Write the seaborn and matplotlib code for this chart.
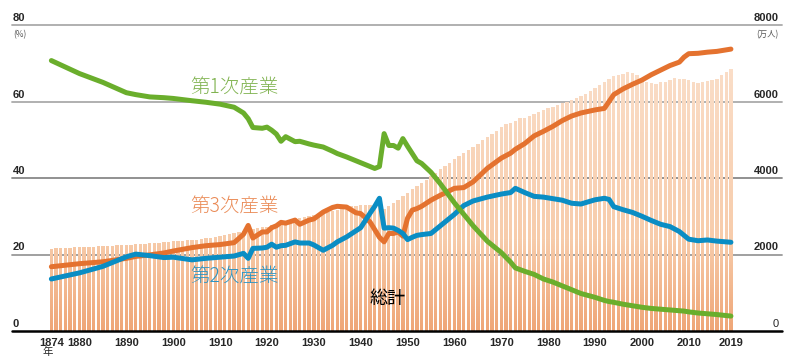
import numpy as np
import pandas as pd
import matplotlib
matplotlib.use('Agg')
import matplotlib.pyplot as plt
import matplotlib.transforms as mtransforms
from matplotlib.path import Path
from matplotlib.patches import PathPatch
from matplotlib.colors import LinearSegmentedColormap
import seaborn as sns

# total workers (万人), one bar per year 1874-2019
bar_years = list(range(1874, 2020))
bar_total = [
    2150, 2160, 2165, 2170, 2180, 2185,
    2190, 2195, 2200, 2205, 2210, 2220, 2225, 2230, 2240, 2245,
    2250, 2260, 2265, 2275, 2280, 2290, 2300, 2310, 2320, 2330,
    2340, 2350, 2360, 2370, 2380, 2390, 2400, 2420, 2440, 2460,
    2480, 2500, 2530, 2560, 2590, 2610, 2640, 2660, 2690, 2710,
    2730, 2760, 2790, 2820, 2850, 2880, 2920, 2950, 2980, 3000,
    3020, 3050, 3080, 3110, 3140, 3170, 3200, 3230, 3260, 3280,
    3290, 3300, 3300, 3290, 3260, 3200, 3260, 3340, 3430, 3530,
    3620, 3700, 3780, 3870, 3950, 4040, 4130, 4230, 4320, 4400,
    4500, 4580, 4660, 4740, 4820, 4900, 4990, 5070, 5140, 5230,
    5330, 5400, 5440, 5500, 5560, 5580, 5620, 5680, 5720, 5770,
    5820, 5860, 5900, 5960, 6000, 6040, 6090, 6140, 6200, 6270,
    6350, 6440, 6520, 6600, 6660, 6700, 6730, 6760, 6740, 6700,
    6600, 6500, 6480, 6470, 6500, 6520, 6560, 6620, 6600, 6580,
    6560, 6520, 6490, 6510, 6540, 6570, 6600, 6680, 6760, 6850,
]

# industry shares (%)
line_years = [1874, 1880, 1885, 1890, 1892, 1895, 1898, 1900, 1904, 1907, 1910, 1913,
              1915, 1916, 1917, 1919, 1920, 1921, 1922, 1923, 1924, 1926, 1927, 1929,
              1930, 1932, 1934, 1935, 1937, 1939, 1940, 1942, 1943, 1944, 1945, 1946,
              1947, 1948, 1949, 1950, 1951, 1952, 1953, 1955, 1957, 1960, 1962, 1964,
              1967, 1970, 1972, 1973, 1975, 1977, 1979, 1981, 1983, 1985, 1987, 1990,
              1992, 1993, 1994, 1996, 1998, 2000, 2002, 2004, 2006, 2008, 2009, 2010,
              2012, 2014, 2016, 2019]
primary = [70.7, 67.3, 65.0, 62.3, 61.8, 61.2, 61.0, 60.8, 60.2, 59.8, 59.3, 58.5,
           57.0, 55.5, 53.2, 53.0, 53.3, 52.5, 51.5, 49.6, 50.8, 49.5, 49.6, 48.9,
           48.6, 48.1, 47.0, 46.4, 45.5, 44.5, 44.0, 43.0, 42.5, 43.0, 51.6, 48.5,
           48.5, 47.8, 50.3, 48.3, 46.4, 44.5, 43.8, 41.5, 38.5, 33.5, 30.5, 27.5,
           23.5, 20.5, 18.0, 16.5, 15.6, 14.8, 13.6, 12.8, 11.8, 10.8, 9.8, 8.8,
           8.0, 7.7, 7.5, 7.0, 6.6, 6.2, 5.9, 5.7, 5.5, 5.3, 5.2, 5.0,
           4.7, 4.5, 4.3, 3.9]
secondary = [13.6, 15.2, 16.9, 19.4, 20.1, 19.7, 19.2, 19.3, 18.6, 19.0, 19.3, 19.6,
             20.3, 19.0, 21.6, 21.7, 21.9, 22.7, 21.9, 22.3, 22.4, 23.3, 23.0, 23.0,
             22.5, 21.1, 22.4, 23.3, 24.6, 26.2, 27.0, 30.8, 32.6, 34.7, 26.9, 27.0,
             26.9, 26.3, 25.5, 23.9, 24.5, 25.0, 25.2, 25.5, 27.5, 30.5, 32.8, 34.0,
             35.0, 35.8, 36.2, 37.3, 36.2, 35.2, 35.0, 34.6, 34.2, 33.4, 33.2, 34.3,
             34.7, 34.4, 32.5, 31.7, 31.0, 30.0, 28.9, 27.9, 27.3, 26.0, 25.0, 24.0,
             23.6, 23.8, 23.5, 23.2]
tertiary = [16.8, 17.6, 18.1, 19.0, 19.5, 19.9, 20.4, 20.9, 21.8, 22.3, 22.6, 23.1,
            25.3, 27.6, 24.3, 25.9, 25.9, 27.0, 27.5, 28.4, 28.2, 29.0, 27.9, 29.0,
            29.3, 31.1, 32.3, 32.6, 32.4, 30.9, 30.7, 28.5, 26.5, 24.5, 23.3, 25.5,
            25.5, 25.9, 24.8, 29.5, 31.6, 32.0, 32.6, 34.2, 35.5, 37.3, 37.5, 39.0,
            42.5, 45.2, 46.5, 47.5, 49.0, 51.0, 52.2, 53.5, 55.0, 56.2, 57.0, 57.8,
            58.2, 60.0, 61.8, 63.3, 64.5, 65.6, 67.0, 68.2, 69.4, 70.3, 71.6, 72.5,
            72.6, 72.9, 73.1, 73.7]

tick_years = [1874, 1880, 1890, 1900, 1910, 1920, 1930, 1940, 1950, 1960, 1970,
              1980, 1990, 2000, 2010, 2019]
left_ticks = [0, 20, 40, 60, 80]
right_ticks = [0, 2000, 4000, 6000, 8000]

C_GREEN = '#6aae2c'
C_ORANGE = '#e4722f'
C_BLUE = '#0a8dc4'
CJK = ['Noto Sans CJK JP', 'DejaVu Sans']

sns.set_theme(style='white')
plt.rcParams['font.family'] = ['Liberation Sans', 'Noto Sans CJK JP', 'DejaVu Sans']

fig = plt.figure(figsize=(8, 3.58), dpi=100)
ax = fig.add_axes([12 / 800, 27 / 358, 770 / 800, 306 / 358])
axr = ax.twinx()
# lines in front of the bars
ax.set_zorder(axr.get_zorder() + 1)
ax.patch.set_visible(False)

# bars (right axis), then a vertical gradient clipped to them
bars_df = pd.DataFrame({'year': bar_years, 'total': bar_total})
sns.barplot(data=bars_df, x='year', y='total', native_scale=True, width=0.72,
            color='#f5c4a0', saturation=1, ax=axr, zorder=2)
rects = list(axr.patches)
paths = [r.get_path().transformed(r.get_patch_transform()) for r in rects]
clip = PathPatch(Path.make_compound_path(*paths), transform=axr.transData,
                 facecolor='none', edgecolor='none')
axr.add_patch(clip)
for r in rects:
    r.set_visible(False)
cmap = LinearSegmentedColormap.from_list(
    'bars', [(0, '#efa677'), (0.3, '#f7ccab'), (1, '#fbe2cf')])
grad = np.linspace(0, 1, 256).reshape(-1, 1)
im = axr.imshow(grad, extent=[1860, 2035, 0, 8000], origin='lower',
                aspect='auto', cmap=cmap, zorder=2)
im.set_clip_path(clip)

for v, c in zip(right_ticks[1:], ['#999999', '#888888', '#aaaaaa', '#aaaaaa']):
    axr.axhline(v, color=c, lw=1.3, zorder=1, clip_on=False)
axr.set_ylim(0, 8000)

# share lines (left axis)
lines_df = pd.DataFrame({'year': line_years, '第1次産業': primary,
                         '第2次産業': secondary, '第3次産業': tertiary})
long_df = lines_df.melt(id_vars='year', var_name='sector', value_name='share')
sns.lineplot(data=long_df, x='year', y='share', hue='sector',
             hue_order=['第3次産業', '第2次産業', '第1次産業'],
             palette={'第1次産業': C_GREEN, '第2次産業': C_BLUE, '第3次産業': C_ORANGE},
             lw=3.6, legend=False, ax=ax, zorder=3, solid_joinstyle='round')
ax.axhline(0, color='black', lw=1.8, zorder=4, clip_on=False)

ax.set_xlim(1865.6, 2029.9)
ax.set_ylim(0, 80)
for a in (ax, axr):
    for s in a.spines.values():
        s.set_visible(False)
    a.set_yticks([])
    a.set_ylabel('')
    a.set_xlabel('')
ax.set_xticks(tick_years)
ax.set_xticklabels([str(y) for y in tick_years], fontweight='bold', fontsize=8)
ax.tick_params(axis='x', length=0, pad=5)

# axis value labels sitting above each gridline
left_tr = mtransforms.offset_copy(
    mtransforms.blended_transform_factory(ax.transAxes, ax.transData), fig=fig, y=2, units='dots')
for v in left_ticks:
    ax.text(0.001, v, str(v), transform=left_tr, ha='left', va='bottom',
            fontweight='bold', fontsize=8)
right_tr = mtransforms.offset_copy(
    mtransforms.blended_transform_factory(axr.transAxes, axr.transData), fig=fig, y=2, units='dots')
for v in right_ticks:
    axr.text(0.996, v, str(v), transform=right_tr, ha='right', va='bottom',
             fontweight='normal' if v == 0 else 'bold', fontsize=8)

unit_tr = mtransforms.offset_copy(
    mtransforms.blended_transform_factory(ax.transAxes, ax.transData), fig=fig, y=-10, units='dots')
ax.text(0.001, 80, '(%)', transform=unit_tr, ha='left', va='center',
        fontsize=6, color='#555555', family=CJK)
ax.text(0.996, 80, '(万人)', transform=unit_tr, ha='right', va='center',
        fontsize=6, color='#555555', family=CJK)
ax.text(1873.2, -0.069, '年', transform=mtransforms.blended_transform_factory(ax.transData, ax.transAxes),
        ha='center', va='center', fontsize=7.5, family=CJK)

# series labels
label_kw = dict(fontsize=14, ha='center', va='center', family=CJK, fontweight='light')
ax.text(1913.1, 63.6, '第1次産業', color='#80b350', **label_kw)
ax.text(1913.1, 32.3, '第3次産業', color='#ea8a55', **label_kw)
ax.text(1913.1, 14.1, '第2次産業', color='#2b93c2', **label_kw)
ax.text(1945.7, 8.3, '総計', color='black', fontsize=13, ha='center', va='center', family=CJK)

fig.savefig('out.png', dpi=100)
